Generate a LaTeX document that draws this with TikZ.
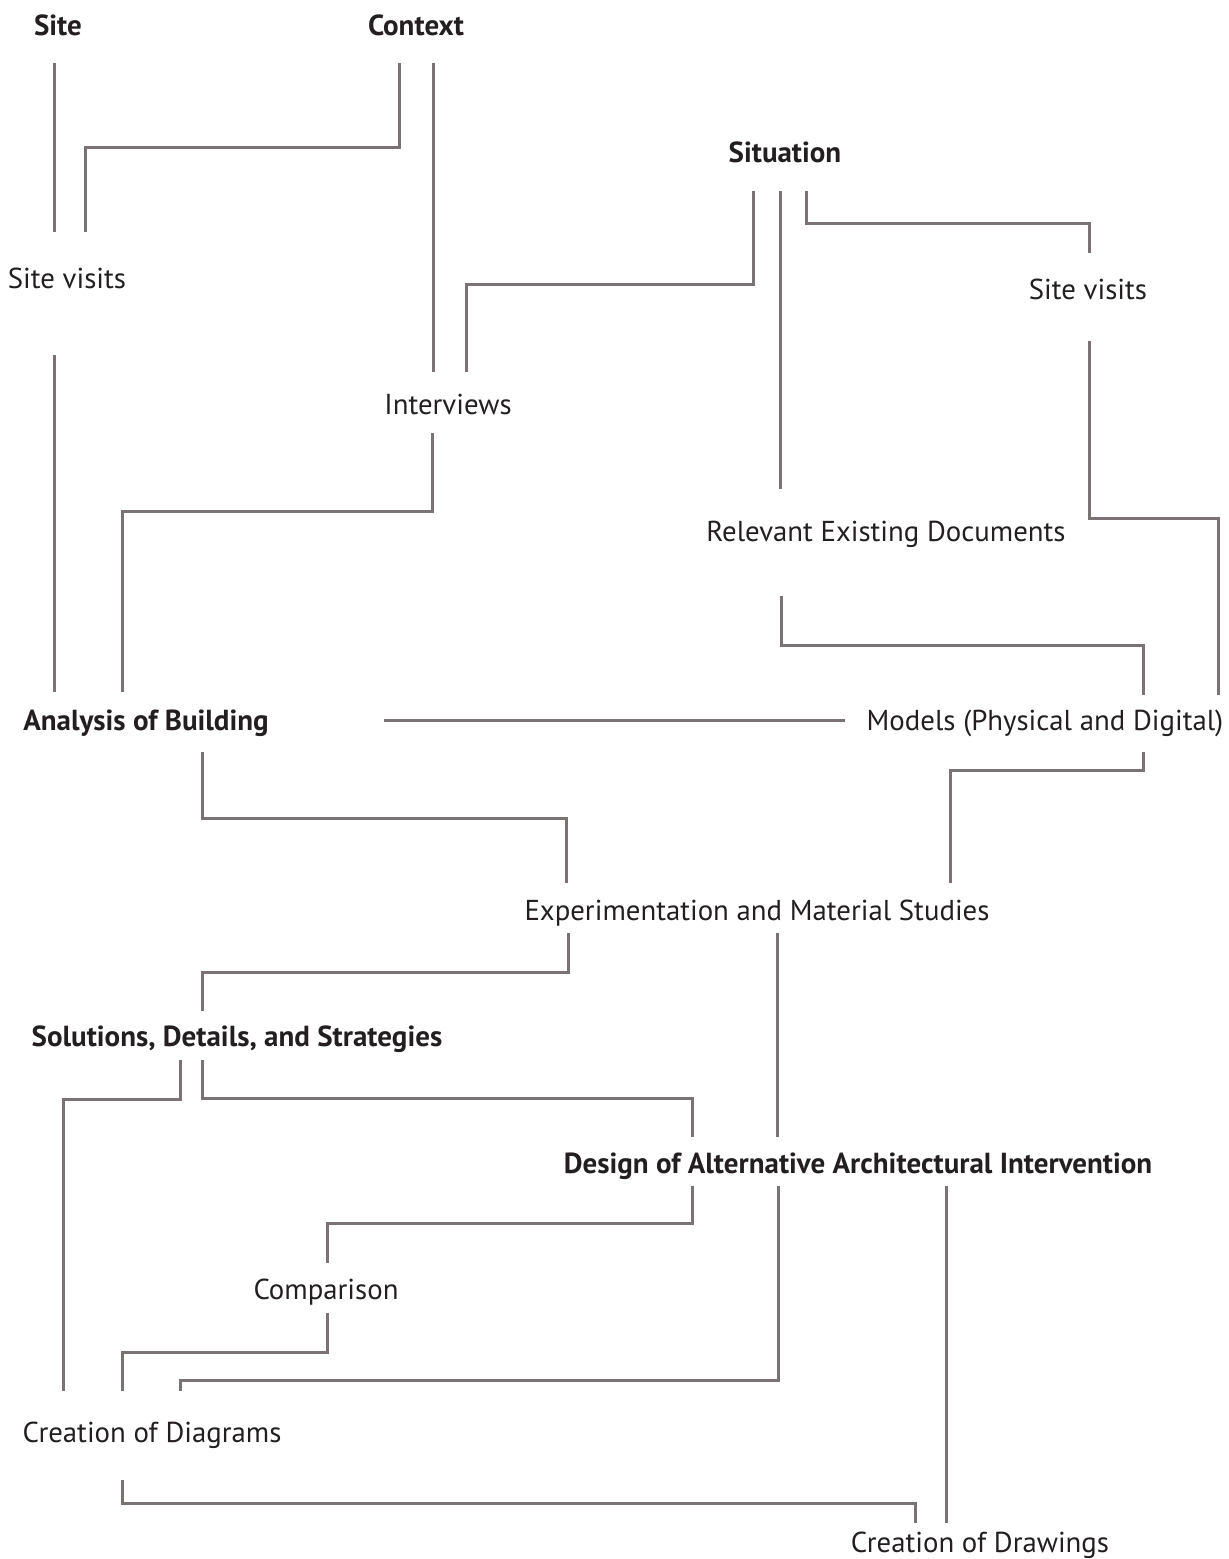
\documentclass[tikz,border=0pt]{standalone}
\usepackage{fontspec}
\setmainfont{PT Sans}
\definecolor{linecol}{HTML}{7B7373}
\definecolor{txtcol}{HTML}{231F20}
\begin{document}
\begin{tikzpicture}[x=0.5pt,y=-0.5pt,
  lbl/.style={inner sep=0pt, anchor=base, text=txtcol, font=\fontsize{14.4}{16}\selectfont},
  blbl/.style={lbl, font=\fontsize{14.5}{16}\selectfont\bfseries},
  conn/.style={draw=linecol, line width=1.5pt}]
\useasboundingbox (0,0) rectangle (1228,1559);
% nodes (text height = gap above baseline, text depth = gap below)
\node[blbl, text height=11pt, text depth=14pt] (site) at (58,35) {Site};
\node[blbl, text height=11pt, text depth=14pt] (context) at (416,35) {Context};
\node[lbl, text height=28pt, text depth=33.5pt] (sitevl) at (67,288) {Site visits};
\node[blbl, text height=11pt, text depth=14.5pt] (situation) at (785,162) {Situation};
\node[lbl, text height=23pt, text depth=21pt] (sitevr) at (1088,299) {Site visits};
\node[lbl, text height=21pt, text depth=9.5pt] (interviews) at (448,414) {Interviews};
\node[lbl, text height=26pt, text depth=27.5pt] (relevant) at (886,541) {Relevant Existing Documents};
\node[blbl, text height=19pt, text depth=11pt] (analysis) at (146,730) {Analysis of Building};
\node[lbl, text height=17.5pt, text depth=11pt] (models) at (1045,730) {Models (Physical and Digital)};
\node[lbl, text height=18.5pt, text depth=6.5pt] (exper) at (757,920) {Experimentation and Material Studies};
\node[blbl, text height=17.5pt, text depth=7pt] (solutions) at (237,1046) {Solutions, Details, and Strategies};
\node[blbl, text height=18pt, text depth=6.5pt] (design) at (858,1173) {Design of Alternative Architectural Intervention};
\node[lbl, text height=18pt, text depth=7pt] (comparison) at (326,1299) {Comparison};
\node[lbl, text height=25.5pt, text depth=19pt] (diagrams) at (152,1442) {Creation of Diagrams};
\node[lbl, text height=14.5pt, text depth=4pt] (drawings) at (980,1552) {Creation of Drawings};
% connectors
\draw[conn] (54,0 |- site.south) -- (54,0 |- sitevl.north);
\draw[conn] (399,0 |- context.south) |- (85,147) -- (85,0 |- sitevl.north);
\draw[conn] (433,0 |- context.south) -- (433,0 |- interviews.north);
\draw[conn] (753,0 |- situation.south) |- (466,284) -- (466,0 |- interviews.north);
\draw[conn] (780,0 |- situation.south) -- (780,0 |- relevant.north);
\draw[conn] (806,0 |- situation.south) |- (1089,223) -- (1089,0 |- sitevr.north);
\draw[conn] (54,0 |- sitevl.south) -- (54,0 |- analysis.north);
\draw[conn] (432,0 |- interviews.south) |- (122,511) -- (122,0 |- analysis.north);
\draw[conn] (1089,0 |- sitevr.south) |- (1218,518) -- (1218,0 |- models.north);
\draw[conn] (781,0 |- relevant.south) |- (1143,645) -- (1143,0 |- models.north);
\draw[conn] ([xshift=57.5pt]analysis.east |- 0,720) -- ([xshift=-10.5pt]models.west |- 0,720);
\draw[conn] (202,0 |- analysis.south) |- (566,818) -- (566,0 |- exper.north);
\draw[conn] (1143,0 |- models.south) |- (950,770) -- (950,0 |- exper.north);
\draw[conn] (568,0 |- exper.south) |- (202,972) -- (202,0 |- solutions.north);
\draw[conn] (777,0 |- exper.south) -- (777,0 |- design.north);
\draw[conn] (180,0 |- solutions.south) |- (63,1099) -- (63,0 |- diagrams.north);
\draw[conn] (202,0 |- solutions.south) |- (692,1098) -- (692,0 |- design.north);
\draw[conn] (692,0 |- design.south) |- (327,1223) -- (327,0 |- comparison.north);
\draw[conn] (327,0 |- comparison.south) |- (122,1352) -- (122,0 |- diagrams.north);
\draw[conn] (778,0 |- design.south) |- (180,1380) -- (180,0 |- diagrams.north);
\draw[conn] (946,0 |- design.south) -- (946,0 |- drawings.north);
\draw[conn] (122,0 |- diagrams.south) |- (915,1503) -- (915,0 |- drawings.north);
\end{tikzpicture}
\end{document}
